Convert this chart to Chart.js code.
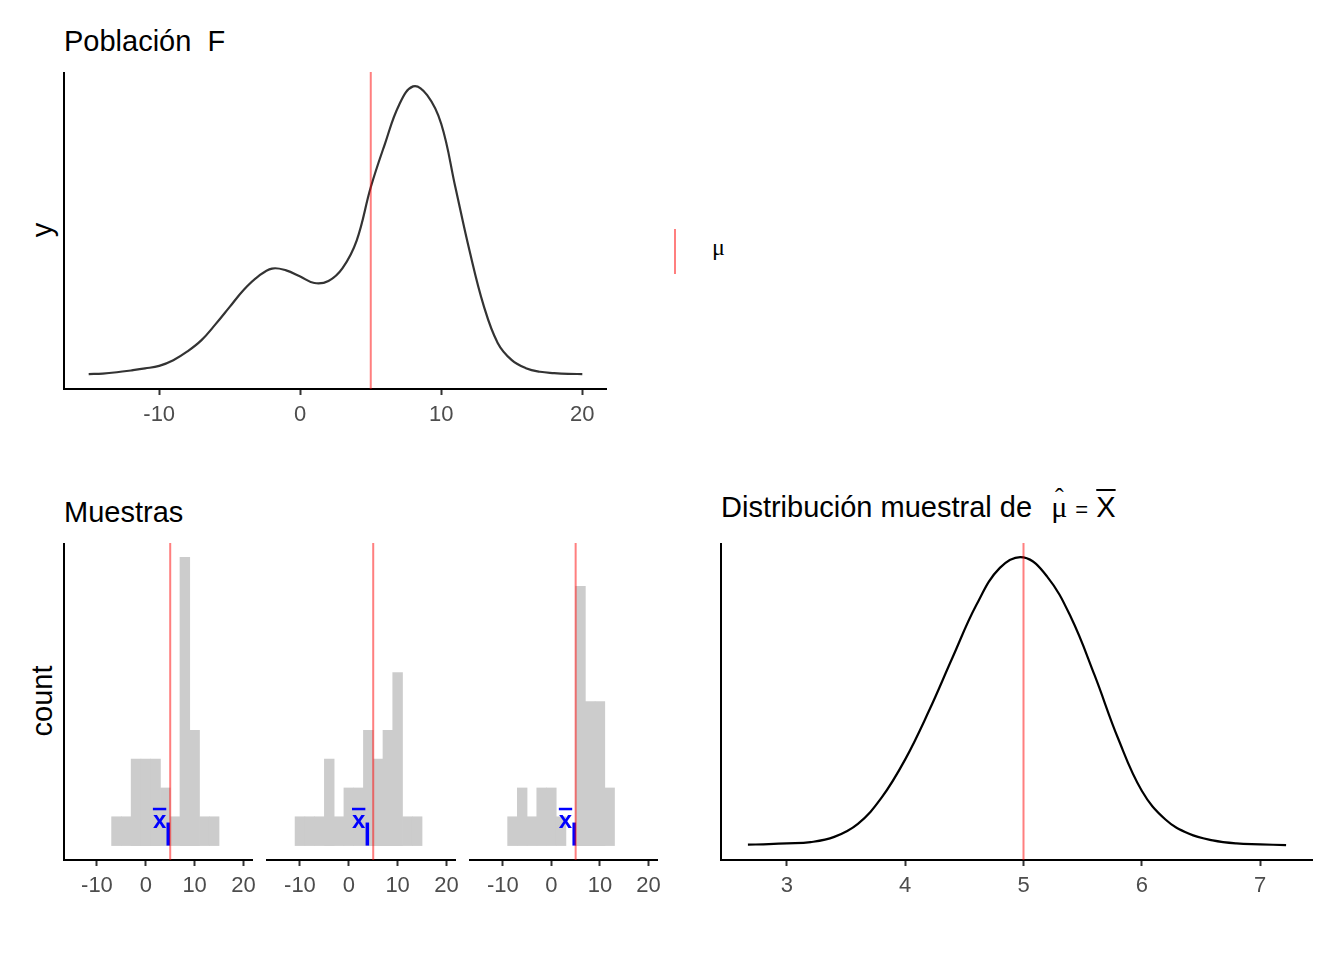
<!DOCTYPE html>
<html lang="es">
<head>
<meta charset="utf-8">
<title>Población F y distribución muestral</title>
<script src="https://cdn.jsdelivr.net/npm/chart.js@4.4.1/dist/chart.umd.min.js"></script>
<style>
  body { margin: 0; background: #fff; }
  #page { position: relative; width: 1344px; height: 960px; overflow: hidden;
          font-family: 'Liberation Sans', Arial, Helvetica, sans-serif; color: #000; }
  #page canvas { position: absolute; }
  .title { position: absolute; font-size: 29px; line-height: 29px; white-space: pre; }
  .axis-title { position: absolute; font-size: 29px; line-height: 29px; white-space: nowrap;
                transform: translate(-50%, -50%) rotate(-90deg); }
  .muhat { position: relative; display: inline-block; margin-left: 3px;
           font-family: 'Liberation Serif', 'DejaVu Serif', serif; font-size: 30px; }
  .muhat .hat { position: absolute; left: 0; right: 0; top: -9px; text-align: center; font-size: 26px; }
  .eq { font-size: 22px; }
  .ov { text-decoration: overline; text-decoration-thickness: 2px; }
  #legend-key { position: absolute; left: 674px; top: 229px; width: 2px; height: 45px;
                background: rgba(255, 0, 0, 0.5); }
  #legend-label { position: absolute; left: 712px; top: 235px; font-size: 24px; line-height: 24px;
                  font-family: 'Liberation Serif', 'DejaVu Serif', serif; }
</style>
</head>
<body>
<div id="page">
  <div class="title" style="left:64px; top:27px;">Población  F</div>
  <div class="axis-title" style="left:42px; top:230px;">y</div>
  <canvas id="popChart" width="545" height="357" style="left:62px; top:72px;"></canvas>
  <div id="legend-key"></div>
  <div id="legend-label">μ</div>

  <div class="title" style="left:64px; top:498px;">Muestras</div>
  <div class="axis-title" style="left:42px; top:701px;">count</div>
  <canvas id="hist1" width="206" height="357" style="left:62px; top:543px;"></canvas>
  <canvas id="hist2" width="206" height="357" style="left:265px; top:543px;"></canvas>
  <canvas id="hist3" width="205" height="357" style="left:468px; top:543px;"></canvas>

  <div class="title" style="left:721px; top:492px;">Distribución muestral de  <span class="muhat">μ<span class="hat">ˆ</span></span> <span class="eq">=</span> <span class="ov">X</span></div>
  <canvas id="meanChart" width="594" height="357" style="left:719px; top:543px;"></canvas>
</div>

<script>
// Population density
const popX = [-15, -14, -13, -12, -11, -10, -9, -8, -7, -6, -5, -4, -3, -2, -1, 0, 1, 2,
              3, 4, 5, 6, 7, 8, 9, 10, 11, 12, 13, 14, 15, 16, 17, 18, 19, 20];
const popDensity = [0.0002, 0.0004, 0.0009, 0.0016, 0.0024, 0.0034, 0.0056, 0.0090, 0.0134,
                    0.0196, 0.0263, 0.0330, 0.0381, 0.0412, 0.0405, 0.0381, 0.0356, 0.0364,
                    0.0414, 0.0521, 0.0728, 0.0896, 0.1047, 0.1120, 0.1086, 0.0974, 0.0728,
                    0.0482, 0.0269, 0.0123, 0.0056, 0.0025, 0.0011, 0.0006, 0.0003, 0.0002];
const mu = 5;
const popTicks = [-10, 0, 10, 20];

// Three samples, histogram bins of width 2
const binCenters = [-10, -8, -6, -4, -2, 0, 2, 4, 6, 8, 10, 12, 14];
const sample1Counts = [0, 0, 1, 1, 3, 3, 3, 2, 1, 10, 4, 1, 1];
const sample2Counts = [1, 1, 1, 3, 1, 2, 2, 4, 3, 4, 6, 1, 1];
const sample3Counts = [0, 1, 2, 1, 2, 2, 1, 0, 9, 5, 5, 2, 0];
const sampleMeans = [4.6, 3.8, 4.7];

// Sampling distribution of the mean
const meanX = [2.67, 2.8, 3.0, 3.2, 3.4, 3.6, 3.8, 4.0, 4.2, 4.4, 4.6, 4.8, 5.0, 5.2, 5.4,
               5.6, 5.8, 6.0, 6.2, 6.4, 6.6, 6.8, 7.0, 7.22];
const meanDensity = [0.002, 0.003, 0.005, 0.008, 0.020, 0.050, 0.110, 0.198, 0.309, 0.432,
                     0.552, 0.638, 0.662, 0.618, 0.525, 0.392, 0.246, 0.126, 0.060, 0.027,
                     0.012, 0.005, 0.003, 0.001];
const meanTicks = [3, 4, 5, 6, 7];

const FONT = "'Liberation Sans', Arial, Helvetica, sans-serif";
const RED = 'rgba(255, 0, 0, 0.5)';

// ggplot-style 5% expansion
function expand(lo, hi) {
    const pad = (hi - lo) * 0.05;
    return [lo - pad, hi + pad];
}

function xAxis(range, ticks) {
    return {
        type: 'linear',
        min: range[0],
        max: range[1],
        offset: false,
        afterBuildTicks: axis => { axis.ticks = ticks.map(v => ({ value: v })); },
        afterFit: axis => {
            axis.height = 40;
            // keep the panel full width even when edge labels overhang
            axis.paddingLeft = 0;
            axis.paddingRight = 0;
        },
        grid: { display: true, offset: false, drawOnChartArea: false, drawTicks: true,
                tickLength: 6, tickWidth: 2, tickColor: '#333333' },
        border: { display: true, color: '#000000', width: 2 },
        ticks: { color: '#4D4D4D', font: { family: FONT, size: 22 }, padding: 7,
                 maxRotation: 0, autoSkip: false }
    };
}

function yAxis(range, showLine) {
    return {
        min: range[0],
        max: range[1],
        afterFit: axis => { axis.width = 2; },
        grid: { display: false },
        border: { display: showLine, color: '#000000', width: 2 },
        ticks: { display: false }
    };
}

function options(extra, padRight) {
    return Object.assign({
        responsive: false,
        animation: false,
        devicePixelRatio: 1,
        layout: { padding: { left: 0, top: 0, bottom: 0, right: padRight } },
        plugins: { legend: { display: false }, tooltip: { enabled: false }, title: { display: false } }
    }, extra);
}

// Blue "x̄" label next to the sample mean segment
const xbarLabel = {
    id: 'xbarLabel',
    afterDatasetsDraw(chart, args, opts) {
        if (opts.mean === undefined) return;
        const { ctx, scales: { x, y } } = chart;
        const px = x.getPixelForValue(opts.mean);
        const py = y.getPixelForValue(opts.level);
        ctx.save();
        ctx.fillStyle = '#0000FF';
        ctx.font = 'bold 24px ' + FONT;
        ctx.textAlign = 'right';
        ctx.textBaseline = 'alphabetic';
        const w = ctx.measureText('x').width;
        ctx.fillText('x', px - 2, py + 11);
        ctx.fillRect(px - 2 - w, py - 9, w, 2.5);
        ctx.restore();
    }
};

// Population chart
const popXRange = expand(Math.min(...popX), Math.max(...popX));
const popYRange = expand(0, Math.max(...popDensity));
new Chart(document.getElementById('popChart').getContext('2d'), {
    type: 'line',
    data: {
        datasets: [
            {
                data: popX.map((x, i) => ({ x: x, y: popDensity[i] })),
                borderColor: '#333333',
                borderWidth: 2.2,
                pointRadius: 0,
                tension: 0.4,
                order: 2
            },
            {
                data: [{ x: mu, y: popYRange[0] }, { x: mu, y: popYRange[1] }],
                borderColor: RED,
                borderWidth: 2,
                pointRadius: 0,
                order: 1
            }
        ]
    },
    options: options({
        scales: { x: xAxis(popXRange, popTicks), y: yAxis(popYRange, true) }
    }, 0)
});

// Sample histograms (empty bins are left out)
const histYRange = expand(0, 10);
[sample1Counts, sample2Counts, sample3Counts].forEach((counts, k) => {
    new Chart(document.getElementById('hist' + (k + 1)).getContext('2d'), {
        type: 'bar',
        data: {
            datasets: [
                {
                    type: 'bar',
                    data: binCenters.map((c, i) => ({ x: c, y: counts[i] })).filter(p => p.y > 0),
                    backgroundColor: '#CCCCCC',
                    borderWidth: 0,
                    barPercentage: 1,
                    categoryPercentage: 1,
                    order: 3
                },
                {
                    type: 'line',
                    data: [{ x: sampleMeans[k], y: 0 }, { x: sampleMeans[k], y: 0.8 }],
                    borderColor: '#0000FF',
                    borderWidth: 3.5,
                    pointRadius: 0,
                    order: 2
                },
                {
                    type: 'line',
                    data: [{ x: mu, y: histYRange[0] }, { x: mu, y: histYRange[1] }],
                    borderColor: RED,
                    borderWidth: 2,
                    pointRadius: 0,
                    order: 1
                }
            ]
        },
        options: options({
            plugins: {
                legend: { display: false },
                tooltip: { enabled: false },
                title: { display: false },
                xbarLabel: { mean: sampleMeans[k], level: 1 }
            },
            scales: { x: xAxis(popXRange, popTicks), y: yAxis(histYRange, k === 0) }
        }, 16),
        plugins: [xbarLabel]
    });
});

// Sampling distribution chart
const meanXRange = expand(Math.min(...meanX), Math.max(...meanX));
const meanYRange = expand(0, Math.max(...meanDensity));
new Chart(document.getElementById('meanChart').getContext('2d'), {
    type: 'line',
    data: {
        datasets: [
            {
                data: meanX.map((x, i) => ({ x: x, y: meanDensity[i] })),
                borderColor: '#000000',
                borderWidth: 2.2,
                pointRadius: 0,
                tension: 0.4,
                order: 2
            },
            {
                data: [{ x: mu, y: meanYRange[0] }, { x: mu, y: meanYRange[1] }],
                borderColor: RED,
                borderWidth: 2,
                pointRadius: 0,
                order: 1
            }
        ]
    },
    options: options({
        scales: { x: xAxis(meanXRange, meanTicks), y: yAxis(meanYRange, true) }
    }, 0)
});
</script>
</body>
</html>
